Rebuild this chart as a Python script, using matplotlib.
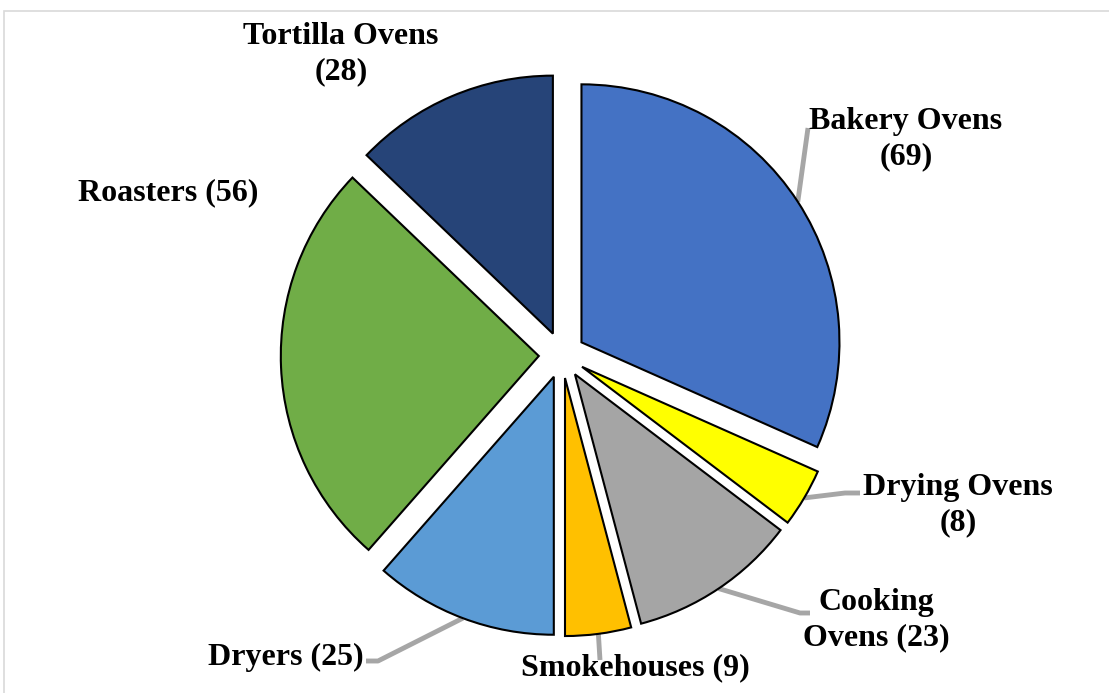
import matplotlib.pyplot as plt
from matplotlib.patches import Rectangle
import numpy as np

categories = ["Bakery Ovens", "Drying Ovens", "Cooking Ovens", "Smokehouses",
              "Dryers", "Roasters", "Tortilla Ovens"]
counts = [69, 8, 23, 9, 25, 56, 28]
label_text = ["Bakery Ovens\n({})", "Drying Ovens\n({})", "Cooking\nOvens ({})",
              "Smokehouses ({})", "Dryers ({})", "Roasters ({})", "Tortilla Ovens\n({})"]
colors = ["#4472C4", "#FFFF00", "#A5A5A5", "#FFC000", "#5B9BD5", "#70AD47", "#264478"]

W, H = 1109, 693
CX, CY, R = 562, 355, 258   # pie centre and radius in pixels
EXPLODE = 0.09


def px(x, y):
    # pixel position -> data coordinates (radius 1 pie)
    return (x - CX) / R, (CY - y) / R


plt.rcParams["font.family"] = ["Liberation Serif", "DejaVu Serif"]

fig = plt.figure(figsize=(W / 100, H / 100), dpi=100)
ax = fig.add_axes([0, 0, 1, 1])

wedges, _ = ax.pie(counts, colors=colors, startangle=90, counterclock=False,
                   explode=[EXPLODE] * len(counts), radius=1,
                   wedgeprops=dict(edgecolor="black", linewidth=1.5))
# pie() resets the limits, so set them afterwards
ax.set_xlim(-CX / R, (W - CX) / R)
ax.set_ylim(-(H - CY) / R, CY / R)
ax.axis("off")

# label centre (pixels) and leader path after the arc point (pixels); None = no leader
label_pos = [(906, 139), (958, 505), (876, 620), (635, 668), (286, 657), (168, 193), (341, 54)]
leaders = [
    [(808, 128)],
    [(845, 493), (860, 493)],
    [(800, 613), (810, 613)],
    [(600, 660)],
    [(378, 661), (366, 661)],
    None,
    None,
]

for w, n, txt, pos, path in zip(wedges, counts, label_text, label_pos, leaders):
    if path is not None:
        mid = np.deg2rad((w.theta1 + w.theta2) / 2)
        cx, cy = w.center
        start = (cx + w.r * np.cos(mid), cy + w.r * np.sin(mid))
        pts = [start] + [px(*p) for p in path]
        xs, ys = zip(*pts)
        ax.plot(xs, ys, color="#A6A6A6", lw=3.5, solid_capstyle="butt", zorder=0)
    ax.text(*px(*pos), txt.format(n), ha="center", va="center", fontsize=23,
            fontweight="bold", linespacing=1.3)

fig.patches.append(Rectangle((4 / W, -0.01), 1.0, (H - 11) / H + 0.01, transform=fig.transFigure,
                             fill=False, edgecolor="#D9D9D9", lw=1.2))

fig.savefig("out.png", dpi=100)
